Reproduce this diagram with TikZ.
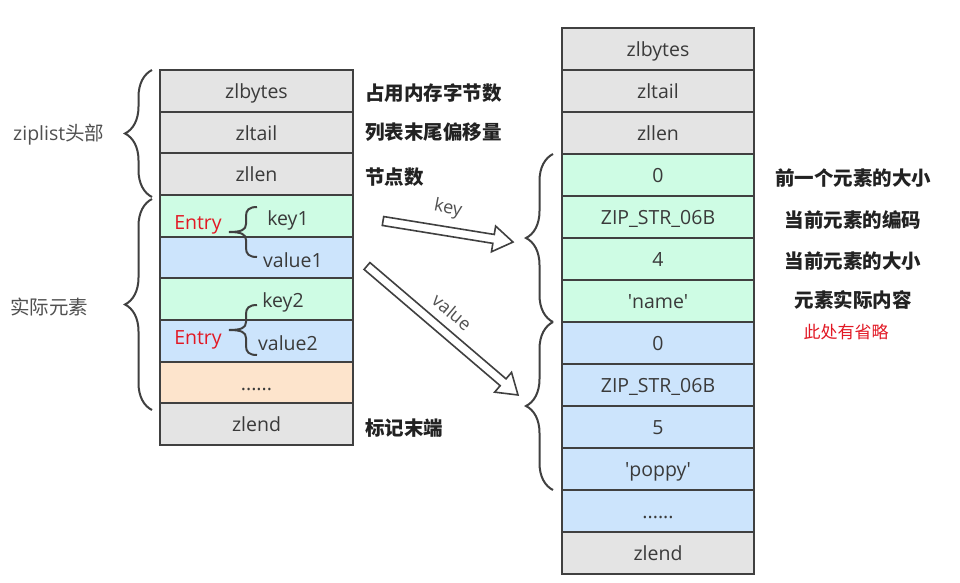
\documentclass[tikz,border=0pt]{standalone}
\usepackage{fontspec}
\setmainfont{Open Sans}
\newfontfamily\cjk{Noto Sans CJK SC}
\usetikzlibrary{decorations.pathreplacing}
\definecolor{cgray}{RGB}{228,228,228}
\definecolor{cgreen}{RGB}{206,252,228}
\definecolor{cblue}{RGB}{204,228,252}
\definecolor{corange}{RGB}{253,228,204}
\definecolor{bordc}{RGB}{64,64,64}
\definecolor{txtc}{RGB}{58,58,58}
\definecolor{labc}{RGB}{34,34,34}
\definecolor{sidec}{RGB}{80,80,80}
\definecolor{redc}{RGB}{226,24,36}
\tikzset{
  cell/.style={draw=bordc, line width=2pt, minimum width=193pt, minimum height=41.67pt, inner sep=0pt, text=txtc, font=\fontsize{19.5}{22}\selectfont, text height=15.5pt, text depth=0pt},
  rcell/.style={cell, minimum width=192pt, minimum height=42pt},
  intext/.style={inner sep=0pt, text=txtc, font=\fontsize{19.5}{22}\selectfont},
  entrytext/.style={inner sep=0pt, text=redc, font=\fontsize{19.5}{22}\selectfont},
  desc/.style={inner sep=0pt, text=labc, font=\cjk\bfseries\fontsize{19.5}{22}\selectfont},
  side/.style={inner sep=0pt, text=sidec, font=\fontsize{19.5}{22}\selectfont},
  note/.style={inner sep=0pt, text=redc, font=\cjk\fontsize{17}{20}\selectfont},
  bigbrace/.style={draw=bordc, line width=2pt, decorate, decoration={brace, amplitude=27pt}},
  smallbrace/.style={draw=bordc, line width=2pt},
  hollow/.style={draw=bordc, line width=1.6pt, fill=white, line join=miter},
  arrowlab/.style={inner sep=0pt, text=sidec, font=\fontsize{18}{20}\selectfont}
}
\begin{document}
\begin{tikzpicture}[x=1pt,y=1pt]
\useasboundingbox (0,0) rectangle (960,-582);
\fill[white] (0,0) rectangle (960,-582);

% left column
\node[cell, fill=cgray]   (L1) at (256.5,-90.83)  {zlbytes};
\node[cell, fill=cgray]   (L2) at (256.5,-132.5)  {zltail};
\node[cell, fill=cgray]   (L3) at (256.5,-174.17) {zllen};
\node[cell, fill=cgreen]  (L4) at (256.5,-215.83) {};
\node[cell, fill=cblue]   (L5) at (256.5,-257.5)  {};
\node[cell, fill=cgreen]  (L6) at (256.5,-299.17) {};
\node[cell, fill=cblue]   (L7) at (256.5,-340.83) {};
\node[cell, fill=corange] (L8) at (256.5,-382.5)  {......};
\node[cell, fill=cgray]   (L9) at (256.5,-424.17) {zlend};

% entries inside left column
\node[entrytext] (e1) at (198,-225) {Entry};
\node[intext] (k1) at (288,-220) {key1};
\node[intext] (v1) at (293,-260) {value1};
\node[intext] (k2) at (283,-302) {key2};
\node[entrytext] (e2) at (198,-340) {Entry};
\node[intext] (v2) at (288,-343) {value2};

\draw[smallbrace] (257,-207) .. controls (249,-207) and (246,-210) .. (246,-216) -- (246,-224)
  .. controls (246,-230) and (241,-232) .. (229,-232)
  .. controls (241,-232) and (246,-234) .. (246,-240) -- (246,-248)
  .. controls (246,-254) and (249,-257) .. (257,-257);
\draw[smallbrace] (257,-305) .. controls (249,-305) and (246,-308) .. (246,-314) -- (246,-322)
  .. controls (246,-328) and (241,-330) .. (229,-330)
  .. controls (241,-330) and (246,-332) .. (246,-338) -- (246,-346)
  .. controls (246,-352) and (249,-355) .. (257,-355);

% left braces and side labels
\draw[bigbrace] (152,-197) -- (152,-70);
\draw[bigbrace] (152,-410) -- (152,-199);
\node[side, anchor=west] (s1) at (13,-135) {ziplist{\cjk 头部}};
\node[side, anchor=west, font=\cjk\fontsize{19.5}{22}\selectfont] (s2) at (10,-307) {实际元素};

% descriptions of left column
\node[desc, anchor=west] (d1) at (365,-93)  {占用内存字节数};
\node[desc, anchor=west] (d2) at (365,-132) {列表末尾偏移量};
\node[desc, anchor=west] (d3) at (365,-177) {节点数};
\node[desc, anchor=west] (d4) at (365,-428) {标记末端};

% right column
\node[rcell, fill=cgray]  (R1)  at (658,-49)  {zlbytes};
\node[rcell, fill=cgray]  (R2)  at (658,-91)  {zltail};
\node[rcell, fill=cgray]  (R3)  at (658,-133) {zllen};
\node[rcell, fill=cgreen] (R4)  at (658,-175) {0};
\node[rcell, fill=cgreen] (R5)  at (658,-217) {ZIP\_STR\_06B};
\node[rcell, fill=cgreen] (R6)  at (658,-259) {4};
\node[rcell, fill=cgreen] (R7)  at (658,-301) {\textquotesingle name\textquotesingle};
\node[rcell, fill=cblue]  (R8)  at (658,-343) {0};
\node[rcell, fill=cblue]  (R9)  at (658,-385) {ZIP\_STR\_06B};
\node[rcell, fill=cblue]  (R10) at (658,-427) {5};
\node[rcell, fill=cblue]  (R11) at (658,-469) {\textquotesingle poppy\textquotesingle};
\node[rcell, fill=cblue]  (R12) at (658,-511) {......};
\node[rcell, fill=cgray]  (R13) at (658,-553) {zlend};

% right braces
\draw[bigbrace] (553,-322) -- (553,-154);
\draw[bigbrace] (553,-490) -- (553,-322);

% right descriptions
\node[desc] (p1) at (853,-178) {前一个元素的大小};
\node[desc] (p2) at (853,-220) {当前元素的编码};
\node[desc] (p3) at (853,-261) {当前元素的大小};
\node[desc] (p4) at (853,-300) {元素实际内容};
\node[note] (p5) at (846,-332) {此处有省略};

% hollow arrows
\begin{scope}[shift={(383,-221)}, rotate=-9.2]
  \draw[hollow] (0,4.5) -- (112,4.5) -- (112,13) -- (131.7,0) -- (112,-13) -- (112,-4.5) -- (0,-4.5) -- cycle;
\end{scope}
\node[arrowlab, rotate=-11] (kl) at (448,-209) {key};

\begin{scope}[shift={(367,-266)}, rotate=-40.5]
  \draw[hollow] (0,4.5) -- (179,4.5) -- (179,13) -- (198.6,0) -- (179,-13) -- (179,-4.5) -- (0,-4.5) -- cycle;
\end{scope}
\node[arrowlab, rotate=-40] (vl) at (452,-312) {value};
\end{tikzpicture}
\end{document}
